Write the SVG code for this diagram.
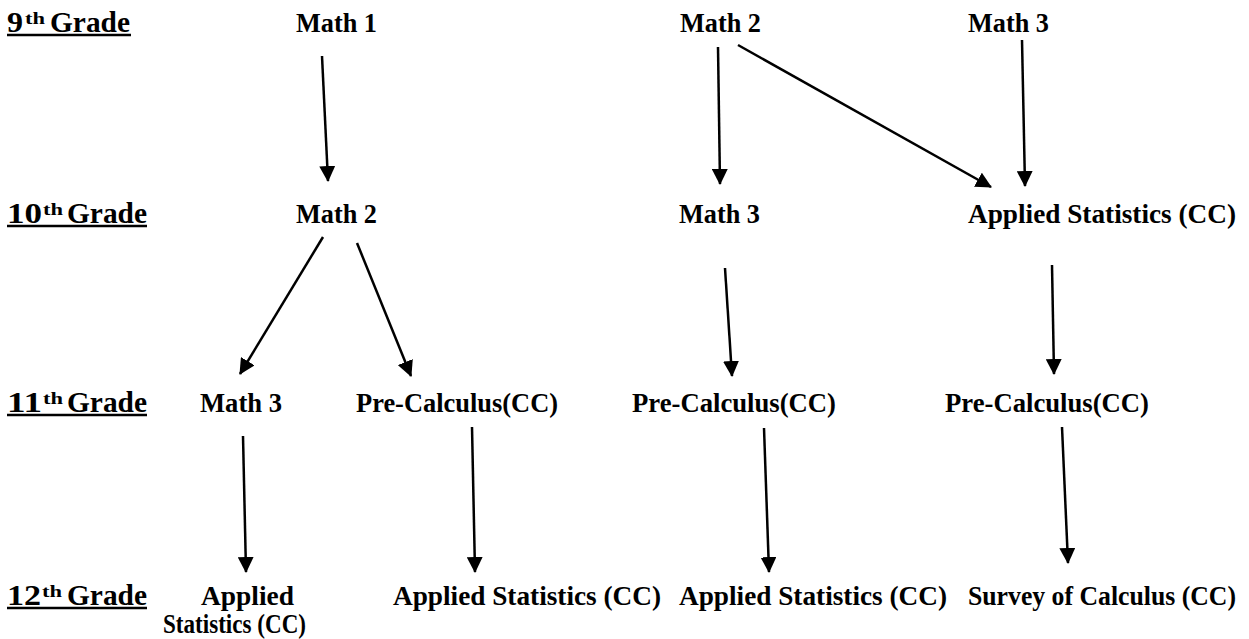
<svg xmlns="http://www.w3.org/2000/svg" width="1249" height="639" viewBox="0 0 1249 639">
<style>
text{font-family:"Liberation Serif","Times New Roman",serif;font-weight:bold;fill:#000}
.g{font-size:30px}
.s{font-size:17px}
.c{font-size:27px}
.ul{stroke:#000;stroke-width:2.5}
.e{stroke:#000;stroke-width:2.5;fill:none;marker-end:url(#ah)}
</style>
<defs>
<marker id="ah" markerUnits="userSpaceOnUse" viewBox="0 0 16 16" markerWidth="16" markerHeight="16" refX="15" refY="8" orient="auto">
<path d="M0,0 L16,8 L0,16 Z" fill="#000"/>
</marker>
</defs>
<rect width="1249" height="639" fill="#fff"/>
<g id="grade9"><text class="g" x="7" y="32" textLength="16" lengthAdjust="spacingAndGlyphs">9</text><text class="s" x="25" y="24" textLength="20" lengthAdjust="spacingAndGlyphs">th</text><text class="g" x="50" y="32" textLength="80" lengthAdjust="spacingAndGlyphs">Grade</text><line class="ul" x1="7" y1="35" x2="131" y2="35"/></g>
<g id="grade10"><text class="g" x="7" y="223" textLength="35" lengthAdjust="spacingAndGlyphs">10</text><text class="s" x="43" y="215" textLength="20" lengthAdjust="spacingAndGlyphs">th</text><text class="g" x="67" y="223" textLength="80" lengthAdjust="spacingAndGlyphs">Grade</text><line class="ul" x1="7" y1="226" x2="147" y2="226"/></g>
<g id="grade11"><text class="g" x="7" y="412" textLength="35" lengthAdjust="spacingAndGlyphs">11</text><text class="s" x="43" y="404" textLength="20" lengthAdjust="spacingAndGlyphs">th</text><text class="g" x="67" y="412" textLength="80" lengthAdjust="spacingAndGlyphs">Grade</text><line class="ul" x1="7" y1="415" x2="147" y2="415"/></g>
<g id="grade12"><text class="g" x="7" y="605" textLength="34" lengthAdjust="spacingAndGlyphs">12</text><text class="s" x="42" y="597" textLength="20" lengthAdjust="spacingAndGlyphs">th</text><text class="g" x="67" y="605" textLength="80" lengthAdjust="spacingAndGlyphs">Grade</text><line class="ul" x1="7" y1="608" x2="147" y2="608"/></g>

<g id="n9_math1"><text class="c" x="296" y="32" textLength="81" lengthAdjust="spacingAndGlyphs">Math 1</text></g>
<g id="n9_math2"><text class="c" x="680" y="32" textLength="81" lengthAdjust="spacingAndGlyphs">Math 2</text></g>
<g id="n9_math3"><text class="c" x="968" y="32" textLength="81" lengthAdjust="spacingAndGlyphs">Math 3</text></g>

<g id="n10_math2"><text class="c" x="296" y="223" textLength="81" lengthAdjust="spacingAndGlyphs">Math 2</text></g>
<g id="n10_math3"><text class="c" x="679" y="223" textLength="81" lengthAdjust="spacingAndGlyphs">Math 3</text></g>
<g id="n10_stats"><text class="c" x="968" y="223" textLength="268" lengthAdjust="spacingAndGlyphs">Applied Statistics (CC)</text></g>

<g id="n11_math3"><text class="c" x="200" y="412" textLength="82" lengthAdjust="spacingAndGlyphs">Math 3</text></g>
<g id="n11_pre_a"><text class="c" x="356" y="412" textLength="202" lengthAdjust="spacingAndGlyphs">Pre-Calculus(CC)</text></g>
<g id="n11_pre_b"><text class="c" x="632" y="412" textLength="204" lengthAdjust="spacingAndGlyphs">Pre-Calculus(CC)</text></g>
<g id="n11_pre_c"><text class="c" x="945" y="412" textLength="204" lengthAdjust="spacingAndGlyphs">Pre-Calculus(CC)</text></g>

<g id="n12_stats_a"><text class="c" x="201" y="605" textLength="93" lengthAdjust="spacingAndGlyphs">Applied</text><text class="c" x="163" y="633" textLength="143" lengthAdjust="spacingAndGlyphs">Statistics (CC)</text></g>
<g id="n12_stats_b"><text class="c" x="393" y="605" textLength="268" lengthAdjust="spacingAndGlyphs">Applied Statistics (CC)</text></g>
<g id="n12_stats_c"><text class="c" x="679" y="605" textLength="268" lengthAdjust="spacingAndGlyphs">Applied Statistics (CC)</text></g>
<g id="n12_survey"><text class="c" x="968" y="605" textLength="268" lengthAdjust="spacingAndGlyphs">Survey of Calculus (CC)</text></g>

<g id="connectors">
<line class="e" x1="322" y1="56" x2="328" y2="181"/>
<line class="e" x1="718" y1="47" x2="720" y2="184"/>
<line class="e" x1="738" y1="45" x2="991" y2="187"/>
<line class="e" x1="1022" y1="40" x2="1025" y2="186"/>
<line class="e" x1="323" y1="237" x2="240" y2="374"/>
<line class="e" x1="357" y1="243" x2="411" y2="376"/>
<line class="e" x1="725" y1="268" x2="732" y2="376"/>
<line class="e" x1="1052" y1="265" x2="1054" y2="374"/>
<line class="e" x1="243" y1="436" x2="246" y2="572"/>
<line class="e" x1="472" y1="427" x2="475" y2="572"/>
<line class="e" x1="764" y1="428" x2="769" y2="572"/>
<line class="e" x1="1062" y1="427" x2="1068" y2="563"/>
</g>
</svg>
